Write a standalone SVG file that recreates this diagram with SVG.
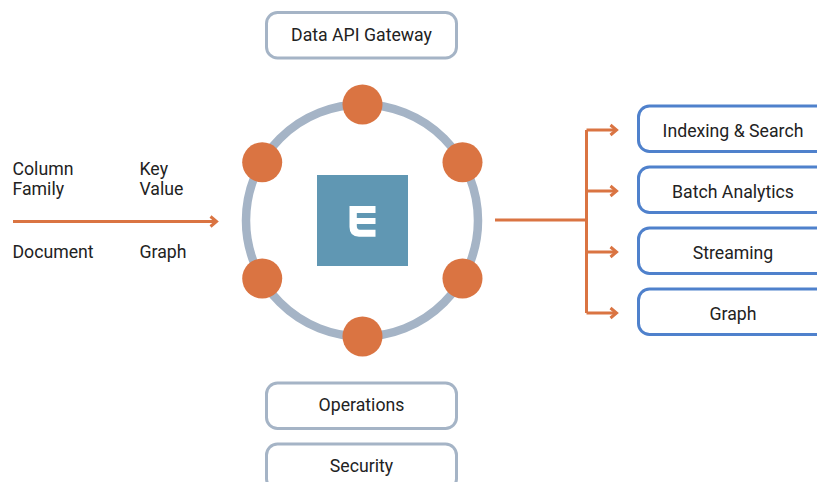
<svg xmlns="http://www.w3.org/2000/svg" width="817" height="482" viewBox="0 0 817 482">
<defs>
<style>
text{font-family:Roboto,"Liberation Sans",sans-serif;font-size:17.7px;fill:#222}
.c{text-anchor:middle}
.g rect{fill:#fff;stroke:#a5b4c6;stroke-width:3}
.b rect{fill:#fff;stroke:#4f81cc;stroke-width:3}
.dot{fill:#da7442}
.conn{fill:none;stroke:#da7442;stroke-width:3}
.head{fill:none;stroke:#da7442;stroke-width:3}
</style>
</defs>
<rect width="817" height="482" fill="#fff"/>
<g id="ring"><circle cx="362" cy="220.500" r="116" fill="none" stroke="#a5b4c6" stroke-width="8.5"/></g>
<g id="connectors">
<path class="conn" d="M13 221.500H216M495 220H586.500M586.500 130V313M586.500 130H616M586.500 191H616M586.500 252H616M586.500 313H616"/>
<path class="head" d="M210.500 216.500L216.500 221.500L210.500 226.500M610.500 125L616.500 130L610.500 135M610.500 186L616.500 191L610.500 196M610.500 247L616.500 252L610.500 257M610.500 308L616.500 313L610.500 318"/>
</g>
<g id="dot-top"><circle class="dot" cx="362.500" cy="104.500" r="20"/></g>
<g id="dot-ul"><circle class="dot" cx="262.200" cy="162.300" r="20"/></g>
<g id="dot-ur"><circle class="dot" cx="462.500" cy="162.300" r="20"/></g>
<g id="dot-ll"><circle class="dot" cx="262.200" cy="278.500" r="20"/></g>
<g id="dot-lr"><circle class="dot" cx="462.500" cy="278.500" r="20"/></g>
<g id="dot-bottom"><circle class="dot" cx="362.500" cy="336.500" r="20"/></g>
<g id="center">
<rect x="317" y="175" width="91" height="91" fill="#6097b3"/>
<path d="M349.500 206H375.500V213H356.800V218H375.500V224H356.800V226Q356.800 229.700 360 229.700H375.500V236.700H359Q349.500 236.700 349.500 227Z" fill="#fff"/>
</g>
<g id="gateway" class="g"><rect x="266.500" y="12.500" width="190" height="45.500" rx="11"/><text class="c" x="361.500" y="41">Data API Gateway</text></g>
<g id="operations" class="g"><rect x="266.500" y="383" width="190" height="45.500" rx="11"/><text class="c" x="361.500" y="411">Operations</text></g>
<g id="security" class="g"><rect x="266.500" y="444" width="190" height="45.500" rx="11"/><text class="c" x="361.500" y="472">Security</text></g>
<g id="indexing" class="b"><rect x="638.500" y="106" width="190" height="45.500" rx="11"/><text class="c" x="733" y="137">Indexing &amp; Search</text></g>
<g id="batch" class="b"><rect x="638.500" y="167" width="190" height="45.500" rx="11"/><text class="c" x="733" y="198">Batch Analytics</text></g>
<g id="streaming" class="b"><rect x="638.500" y="228" width="190" height="45.500" rx="11"/><text class="c" x="733" y="259">Streaming</text></g>
<g id="graph-out" class="b"><rect x="638.500" y="289" width="190" height="45.500" rx="11"/><text class="c" x="733" y="320">Graph</text></g>
<g id="inputs">
<text x="12.500" y="175">Column</text><text x="12.500" y="195">Family</text>
<text x="139.500" y="175">Key</text><text x="139.500" y="195">Value</text>
<text x="12.500" y="258">Document</text><text x="139.500" y="258">Graph</text>
</g>
</svg>
